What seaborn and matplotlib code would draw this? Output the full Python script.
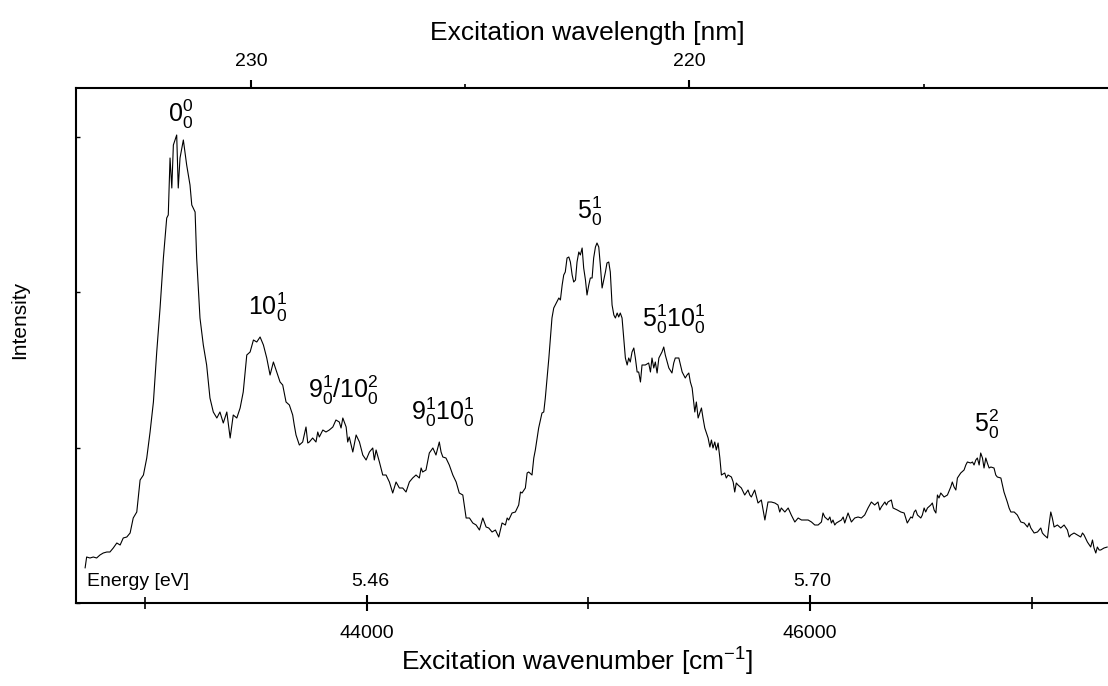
# Excitation spectrum with wavelength and energy scales
import numpy as np
import pandas as pd
import seaborn as sns
import matplotlib.pyplot as plt
from matplotlib.ticker import FixedLocator

# spectrum (wavenumber in cm^-1, intensity in arb. units)
wavenumber = [
    42731, 42738, 42753, 42768, 42783, 42798, 42813, 42829, 42843, 42858,
    42874, 42889, 42903, 42919, 42934, 42948, 42964, 42979, 42994, 43009,
    43024, 43039, 43054, 43069, 43084, 43099, 43106, 43114, 43122, 43129,
    43144, 43151, 43159, 43174, 43189, 43204, 43212, 43227, 43234, 43249,
    43264, 43279, 43294, 43309, 43325, 43339, 43354, 43370, 43385, 43399,
    43415, 43430, 43444, 43460, 43475, 43490, 43505, 43520, 43535, 43550,
    43565, 43580, 43595, 43610,
    43622, 43637, 43652, 43667, 43674, 43682, 43697, 43712, 43727, 43735,
    43742, 43757, 43772, 43780, 43787, 43803, 43817, 43832, 43848, 43862,
    43877, 43885, 43893, 43908, 43915, 43922, 43938, 43953, 43968, 43983,
    43998, 44013, 44028, 44035, 44043, 44058, 44073, 44088, 44103, 44118,
    44133, 44148, 44163, 44178, 44193, 44208, 44223, 44238, 44246, 44253,
    44268, 44283, 44299, 44313, 44328, 44336, 44344, 44358, 44373, 44389,
    44404, 44418, 44434, 44449, 44464, 44479, 44494, 44509, 44524, 44539,
    44551, 44566, 44581, 44596, 44611, 44626, 44634, 44641, 44656, 44671,
    44686, 44694, 44701, 44716, 44724, 44731, 44746, 44754, 44761, 44776,
    44791, 44799, 44806, 44822, 44836, 44844, 44851, 44867, 44874, 44882,
    44889, 44896, 44904, 44912, 44919, 44927, 44934, 44942, 44949, 44957,
    44964, 44972, 44979, 44987, 44994, 45002, 45009, 45017, 45024, 45032,
    45039, 45047, 45054, 45062, 45077, 45084, 45092, 45099, 45107, 45115,
    45122, 45130, 45137, 45144, 45152, 45167, 45175, 45182, 45189, 45197,
    45205, 45212, 45220, 45227, 45235, 45242, 45257, 45272, 45280, 45287,
    45295, 45302, 45310, 45318, 45332, 45340, 45347, 45363, 45377, 45385,
    45392, 45408, 45423, 45437, 45445, 45453, 45460, 45468,
    45480, 45487, 45495, 45510, 45517, 45525, 45540, 45548, 45555, 45562,
    45570, 45577, 45585, 45593, 45600, 45615, 45622, 45630, 45645, 45653,
    45660, 45667, 45675, 45690, 45705, 45720, 45728, 45735, 45750, 45765,
    45780, 45796, 45810, 45825, 45841, 45855, 45863, 45870, 45886, 45901,
    45915, 45931, 45946, 45961, 45976, 45991, 46006, 46021, 46036, 46051,
    46058, 46066, 46081, 46089, 46096, 46103, 46111, 46118, 46126, 46141,
    46149, 46156, 46171, 46186, 46201, 46216, 46231, 46246, 46261, 46276,
    46291, 46306, 46314, 46321, 46337, 46344, 46351, 46366, 46374,
    46393, 46409, 46424, 46438, 46454, 46461, 46469, 46476, 46484, 46499,
    46506, 46514, 46521, 46529, 46544, 46551, 46559, 46567, 46574, 46581,
    46589, 46604, 46619, 46634, 46641, 46649, 46657, 46664, 46679, 46694,
    46702, 46709, 46724, 46732, 46739, 46747, 46754, 46762, 46769, 46777,
    46784, 46792, 46799, 46807, 46815, 46829, 46837, 46844, 46860, 46874,
    46889, 46897, 46905, 46920, 46934, 46950, 46965, 46980, 46987, 46995,
    47010, 47025, 47040, 47047, 47055, 47070, 47077, 47085, 47092, 47100,
    47115, 47130, 47145, 47160, 47168, 47175, 47190, 47205, 47220, 47228,
    47235, 47250, 47265, 47273, 47280, 47288, 47295, 47303, 47310, 47325,
    47340,
]
intensity = [
    35, 46, 45, 46, 45, 48, 50, 51, 51, 55,
    60, 58, 65, 66, 70, 85, 91, 123, 128, 145,
    171, 201, 251, 295, 345, 385, 388, 445, 415, 458,
    468, 415, 445, 463, 438, 418, 398, 391, 345, 285,
    258, 238, 205, 191, 185, 191, 180, 191, 165, 188,
    185, 195, 211, 248, 251, 263, 261, 266, 258, 245,
    228, 241, 231, 221,
    218, 201, 198, 188, 178, 168, 158, 161, 176, 160,
    161, 165, 161, 171, 166, 173, 171, 173, 176, 183,
    181, 175, 185, 176, 161, 166, 151, 168, 161, 148,
    143, 151, 155, 143, 153, 141, 128, 128, 121, 110,
    121, 115, 115, 111, 121, 125, 128, 125, 135, 131,
    133, 150, 155, 148, 161, 151, 146, 145, 138, 128,
    121, 110, 108, 85, 85, 80, 78, 73, 85, 76,
    75, 71, 73, 66, 80, 78, 85, 83, 90, 91,
    98, 111, 110, 115, 130, 131, 128, 145, 153, 175,
    190, 191, 205, 245, 285, 295, 298, 305, 303, 318,
    328, 331, 345, 346, 341, 328, 321, 323, 341, 351,
    348, 355, 335, 323, 308, 318, 325, 325, 345, 356,
    360, 356, 338, 315, 331, 340, 341, 331, 298, 288,
    285, 290, 286, 290, 285, 245, 238, 245, 241, 251,
    255, 245, 231, 231, 221, 238, 238, 240, 231, 245,
    235, 241, 230, 245, 251, 256, 248, 235, 230, 240,
    245, 245, 231, 225, 228, 230, 221, 215,
    191, 201, 185, 195, 185, 175, 165, 156, 163, 155,
    161, 153, 160, 145, 128, 130, 125, 128, 126, 121,
    111, 120, 118, 115, 108, 113, 108, 106, 113, 100,
    103, 83, 101, 101, 100, 98, 91, 95, 91, 95,
    88, 81, 85, 83, 83, 83, 81, 78, 78, 81,
    90, 86, 83, 86, 80, 83, 78, 80, 81, 83,
    86, 80, 90, 81, 85, 86, 85, 88, 95, 101,
    98, 101, 93, 96, 101, 98, 101, 103, 95,
    93, 91, 90, 80, 86, 85, 91, 93, 88, 85,
    88, 95, 91, 95, 98, 100, 93, 90, 108, 105,
    110, 106, 108, 116, 121, 116, 113, 125, 130, 133,
    138, 141, 140, 141, 138, 143, 145, 138, 150, 145,
    135, 145, 140, 135, 136, 135, 128, 126, 125, 111,
    101, 95, 91, 91, 88, 81, 80, 76, 80, 75,
    70, 71, 75, 70, 68, 65, 78, 91, 85, 76,
    78, 75, 78, 73, 66, 68, 70, 68, 66, 70,
    68, 61, 56, 63, 55, 50, 56, 53, 53, 55,
    56,
]

# band assignments: label, wavenumber of label start, intensity of label baseline
band_labels = [r"$0^0_0$", r"$10^1_0$", r"$9^1_0/10^2_0$", r"$9^1_0 10^1_0$",
               r"$5^1_0$", r"$5^1_0 10^1_0$", r"$5^2_0$"]
band_x = [43105, 43466, 43736, 44201, 44949, 45242, 46739]
band_y = [481, 288, 205, 183, 384, 276, 171]

# energy scale labels
energy_labels = ["5.46", "5.70"]
energy_x = [44016, 46010]

wn_major = [44000, 46000]
wn_minor = [43000, 45000, 47000]
nm_major = [230, 220]
nm_minor = [225, 215]
int_ticks = [0, 155.5, 311, 466.5]

df = pd.DataFrame({"wavenumber": wavenumber, "intensity": intensity})

sns.set_theme(style="ticks")
plt.rcParams['font.family'] = ['Liberation Sans', 'DejaVu Sans']
plt.rcParams['mathtext.fontset'] = 'custom'
plt.rcParams['mathtext.rm'] = 'Liberation Sans'
plt.rcParams['mathtext.it'] = 'Liberation Sans'
plt.rcParams['mathtext.default'] = 'regular'
for key in ["text.color", "axes.labelcolor", "xtick.color", "ytick.color",
            "axes.edgecolor"]:
    plt.rcParams[key] = "black"

fig = plt.figure(figsize=(11.08, 6.86), dpi=100)
ax = fig.add_axes([76 / 1108, 83 / 686, 1032 / 1108, 515 / 686])

sns.lineplot(data=df, x="wavenumber", y="intensity", ax=ax,
             color="black", linewidth=0.8, estimator=None)

ax.set_xlim(42690, 47343)
ax.set_ylim(0, 515)

for s in ["top", "right"]:
    ax.spines[s].set_visible(False)
for s in ["left", "bottom"]:
    ax.spines[s].set_linewidth(1.5)
    ax.spines[s].set_color("black")

ax.set_xticks(wn_major)
ax.xaxis.set_minor_locator(FixedLocator(wn_minor))
ax.tick_params(axis="x", which="major", direction="inout", length=12, width=1.5,
               labelsize=14, pad=10, colors="black")
ax.tick_params(axis="x", which="minor", direction="inout", length=8, width=1.2)
ax.set_yticks(int_ticks)
ax.set_yticklabels([])
ax.tick_params(axis="y", direction="in", length=3, width=1)

ax.set_xlabel(r"Excitation wavenumber [cm$^{-1}$]", fontsize=19)
ax.xaxis.set_label_coords(0.485, -0.083)
ax.set_ylabel("Intensity", fontsize=15)
ax.yaxis.set_label_coords(-0.0455, 0.55)


def wn_to_nm(x):
    x = np.asarray(x, dtype=float)
    with np.errstate(divide="ignore"):
        return 1e7 / x


secax = ax.secondary_xaxis("top", functions=(wn_to_nm, wn_to_nm))
secax.set_xticks(nm_major)
secax.xaxis.set_minor_locator(FixedLocator(nm_minor))
secax.tick_params(which="major", direction="out", length=6, width=1.5,
                  labelsize=14, pad=7, colors="black")
secax.tick_params(which="minor", direction="out", length=3, width=1.2)
secax.spines["top"].set_linewidth(1.5)
secax.spines["top"].set_color("black")
secax.set_xlabel("Excitation wavelength [nm]", fontsize=19, labelpad=9.5, x=0.495)

for lab, x, y in zip(band_labels, band_x, band_y):
    ax.text(x, y, lab, fontsize=18, ha="left", va="baseline")

ax.text(0.0105, 0.033, "Energy [eV]", transform=ax.transAxes, fontsize=14,
        ha="left", va="baseline")
for lab, x in zip(energy_labels, energy_x):
    ax.text(x, 17, lab, fontsize=14, ha="center", va="baseline")

fig.savefig("out.png", dpi=100)
